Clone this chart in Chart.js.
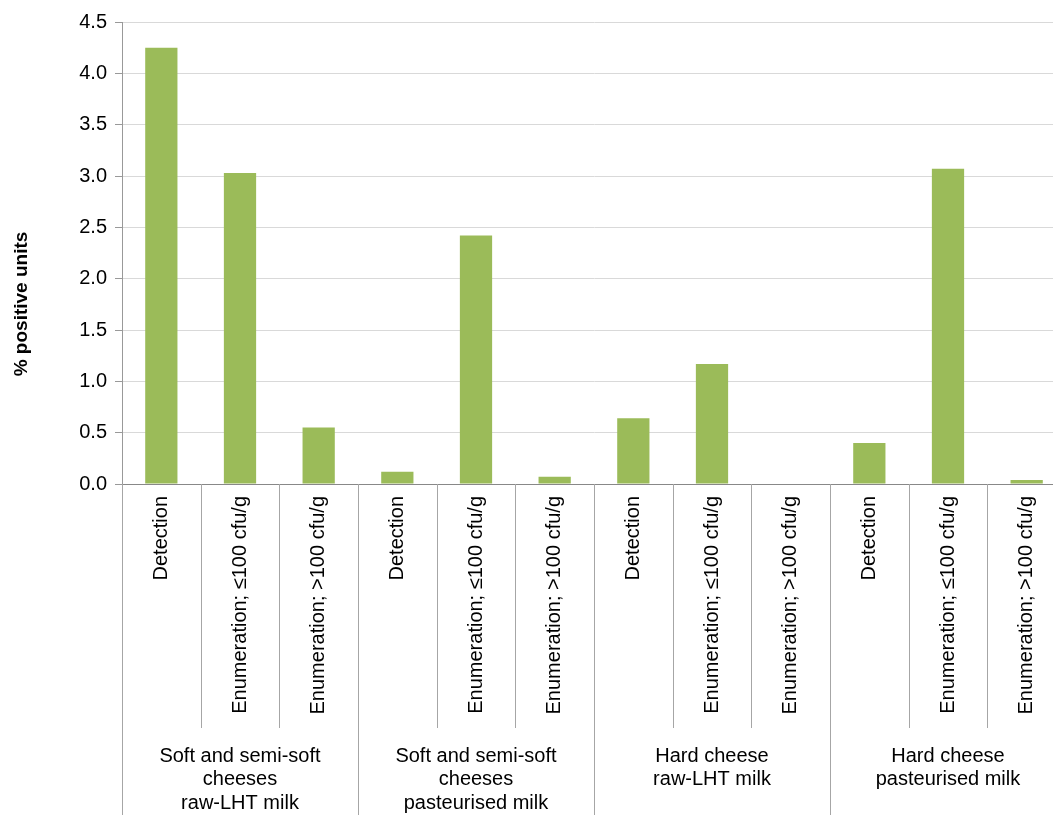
<!DOCTYPE html>
<html>
<head>
<meta charset="utf-8">
<script src="https://cdn.jsdelivr.net/npm/chart.js@4/dist/chart.umd.min.js"></script>
<style>
  html, body { margin: 0; padding: 0; background: #fff; overflow: hidden; }
  #chart { display: block; }
</style>
</head>
<body>
<canvas id="chart" width="1070" height="834"></canvas>
<script>
  // Data
  const tickLabels = [
    "Detection", "Enumeration; ≤100 cfu/g", "Enumeration; >100 cfu/g",
    "Detection", "Enumeration; ≤100 cfu/g", "Enumeration; >100 cfu/g",
    "Detection", "Enumeration; ≤100 cfu/g", "Enumeration; >100 cfu/g",
    "Detection", "Enumeration; ≤100 cfu/g", "Enumeration; >100 cfu/g"
  ];
  const groupLabels = [
    ["Soft and semi-soft", "cheeses", "raw-LHT milk"],
    ["Soft and semi-soft", "cheeses", "pasteurised milk"],
    ["Hard cheese", "raw-LHT milk"],
    ["Hard cheese", "pasteurised milk"]
  ];
  const values = [4.25, 3.03, 0.55, 0.12, 2.42, 0.07, 0.64, 1.17, 0, 0.40, 3.07, 0.04];
  const yTicks = [0, 0.5, 1.0, 1.5, 2.0, 2.5, 3.0, 3.5, 4.0, 4.5];
  const yTitle = "% positive units";

  const FONT = "'Liberation Sans', Arial, sans-serif";

  // Draws the category dividers, group labels and the y title
  const extras = {
    id: "extras",
    afterDraw(chart) {
      const ctx = chart.ctx;
      const x = chart.scales.x;
      const area = chart.chartArea;
      const per = tickLabels.length / groupLabels.length;
      const half = (x.getPixelForValue(1) - x.getPixelForValue(0)) / 2;

      ctx.save();
      ctx.strokeStyle = "#a6a6a6";
      ctx.lineWidth = 1;
      for (let i = 0; i <= tickLabels.length; i++) {
        const px = i < tickLabels.length
          ? x.getPixelForValue(i) - half
          : x.getPixelForValue(i - 1) + half;
        const bottom = i % per === 0 ? 815 : 728;
        ctx.beginPath();
        ctx.moveTo(Math.round(px) + 0.5, area.bottom);
        ctx.lineTo(Math.round(px) + 0.5, bottom);
        ctx.stroke();
      }

      // group labels
      ctx.fillStyle = "#000";
      ctx.font = "20px " + FONT;
      ctx.textAlign = "center";
      ctx.textBaseline = "middle";
      groupLabels.forEach((lines, g) => {
        const cx = (x.getPixelForValue(g * per) + x.getPixelForValue(g * per + per - 1)) / 2;
        lines.forEach((line, k) => {
          ctx.fillText(line, cx, 756 + k * 23.5);
        });
      });

      // y axis title
      ctx.translate(22, 304);
      ctx.rotate(-Math.PI / 2);
      ctx.font = "bold 19px " + FONT;
      ctx.fillText(yTitle, 0, 0);
      ctx.restore();
    }
  };

  const ctx = document.getElementById("chart").getContext("2d");
  new Chart(ctx, {
    type: "bar",
    data: {
      labels: tickLabels,
      datasets: [{
        data: values,
        backgroundColor: "#9bbb59",
        borderWidth: 0,
        barPercentage: 0.41,
        categoryPercentage: 1.0
      }]
    },
    options: {
      responsive: false,
      animation: false,
      layout: { padding: { top: 22, right: 4, left: 0, bottom: 0 } },
      plugins: { legend: { display: false }, tooltip: { enabled: false } },
      scales: {
        x: {
          grid: { display: false, drawTicks: false },
          border: { display: true, color: "#888888" },
          ticks: {
            autoSkip: false,
            minRotation: 90,
            maxRotation: 90,
            padding: 12,
            color: "#000",
            font: { family: FONT, size: 20 }
          },
          afterFit(scale) { scale.height = 350; }
        },
        y: {
          min: 0,
          max: 4.5,
          afterBuildTicks(scale) { scale.ticks = yTicks.map(v => ({ value: v })); },
          grid: { color: "#d9d9d9", tickColor: "#999999", tickLength: 7 },
          border: { display: true, color: "#999999" },
          ticks: {
            padding: 8,
            color: "#000",
            font: { family: FONT, size: 20 },
            callback: v => v.toFixed(1)
          },
          afterFit(scale) { scale.width = 122; }
        }
      }
    },
    plugins: [extras]
  });
</script>
</body>
</html>
